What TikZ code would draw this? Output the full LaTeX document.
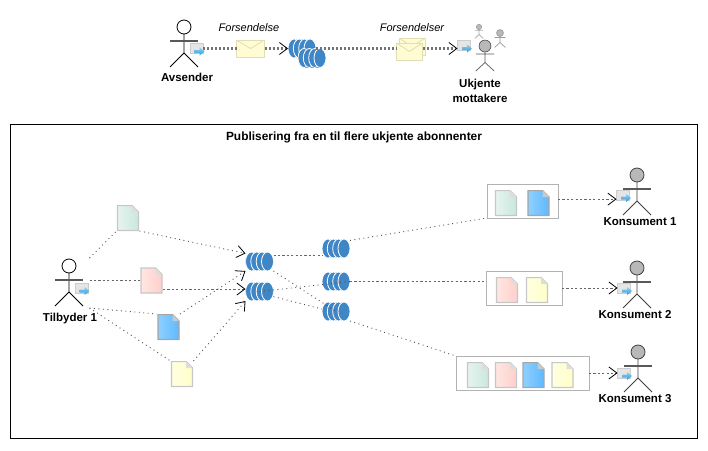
\documentclass[tikz,border=0pt]{standalone}
\usepackage{fontspec}
\setmainfont{Liberation Sans}
\usetikzlibrary{arrows.meta}
\definecolor{queueblue}{HTML}{3F86C6}
\definecolor{envfill}{HTML}{FFFBD2}
\definecolor{envline}{HTML}{E2DDB2}
\definecolor{greenleft}{HTML}{E6F4EF}
\definecolor{greenright}{HTML}{C9E7DD}
\definecolor{redleft}{HTML}{FFE6E2}
\definecolor{redright}{HTML}{FFCFCB}
\definecolor{blueleft}{HTML}{8ED0FF}
\definecolor{blueright}{HTML}{5FB9FF}
\definecolor{yellowleft}{HTML}{FFFFE2}
\definecolor{yellowright}{HTML}{FFFFC6}
\definecolor{arrowtop}{HTML}{8FD0F0}
\definecolor{arrowbottom}{HTML}{2A9BDD}
\colorlet{headgray}{black!28}
\colorlet{docline}{black!22}
\colorlet{bluedocline}{black!35}
\tikzset{
  actorlabel/.style={font=\fontsize{11.5}{15}\selectfont\bfseries, align=center, inner sep=0pt},
  titlelabel/.style={font=\fontsize{11.9}{15}\selectfont\bfseries, inner sep=0pt},
  msglabel/.style={font=\fontsize{11}{13}\selectfont\itshape, inner sep=0pt},
  thickline/.style={line width=2.4pt, black!55, dash pattern=on 2.3pt off 1.7pt},
  dotline/.style={line width=.9pt, black!70, dash pattern=on .9pt off 3.6pt},
  dashline/.style={line width=.7pt, black!60, dash pattern=on 2.2pt off 2.2pt},
  tipline/.style={-{Straight Barb[length=8pt,width=12pt,line width=.8pt,black]}},
  queue/.style={minimum width=28pt, minimum height=19pt, inner sep=0pt, outer sep=0pt,
    path picture={
      \fill[queueblue] ([xshift=-8pt,yshift=-9.5pt]path picture bounding box.center) rectangle ([xshift=8pt,yshift=9.5pt]path picture bounding box.center);
      \foreach \qx in {-8,-2.7,2.7,8}{
        \filldraw[fill=queueblue, draw=white, line width=.8pt] ([xshift=\qx pt]path picture bounding box.center) ellipse (6pt and 9.5pt);
      }
    }},
  docnode/.style n args={3}{minimum width=23pt, minimum height=26pt, inner sep=0pt, outer sep=0pt,
    path picture={
      \begin{scope}[shift={(path picture bounding box.center)}]
        \shade[left color=#1, right color=#2] (-10.5,-12.5) -- (4,-12.5) -- (10.5,-6) -- (10.5,12.5) -- (-10.5,12.5) -- cycle;
        \draw[#3, line width=1.2pt] (-10.5,-12.5) -- (4,-12.5) -- (10.5,-6) -- (10.5,12.5) -- (-10.5,12.5) -- cycle;
        \fill[#3!60!white] (4,-12.5) -- (4,-6) -- (10.5,-6) -- cycle;
      \end{scope}
    }},
  greendoc/.style={docnode={greenleft}{greenright}{docline}},
  reddoc/.style={docnode={redleft}{redright}{docline}},
  bluedoc/.style={docnode={blueleft}{blueright}{bluedocline}},
  yellowdoc/.style={docnode={yellowleft}{yellowright}{docline}},
  envelope/.style={minimum width=28pt, minimum height=17pt, inner sep=0pt, outer sep=0pt,
    fill=envfill, draw=envline, line width=1pt,
    path picture={
      \draw[envline, line width=.8pt] (path picture bounding box.north west) -- (path picture bounding box.center) -- (path picture bounding box.north east);
    }},
  docbox/.style={draw=black!30, line width=.8pt, inner sep=0pt, outer sep=0pt},
  actor/.pic={
    \node[minimum width=41pt, minimum height=50pt, inner sep=0pt, outer sep=0pt] (-box) at (0,17) {};
    \draw[pic actions, line width=.8pt] (0,0) circle (7);
    \draw[pic actions, fill=none, line width=.8pt] (0,7) -- (0,26) -- (-14,40) (0,26) -- (14,40);
    \draw[pic actions, fill=none, line width=1.5pt, black!65] (-14,14) -- (14,14);
  },
  smallactor/.pic={
    \draw[pic actions, line width=.7pt] (0,0) circle (9);
    \draw[pic actions, fill=none, line width=.7pt] (0,9) -- (0,25) -- (-14,38) (0,25) -- (14,38) (-14,12) -- (14,12);
  },
  msgicon/.pic={
    \node[minimum width=13pt, minimum height=10pt, inner sep=0pt, outer sep=0pt, fill=black!10, draw=black!20, line width=.8pt] (-box) at (0,0) {};
    \shade[top color=arrowtop, bottom color=arrowbottom] (-2,1.5) -- (3,1.5) -- (3,-1) -- (8,3) -- (3,7) -- (3,4.5) -- (-2,4.5) -- cycle;
  },
}
\begin{document}
\begin{tikzpicture}[x=1pt, y=-1pt]
\useasboundingbox (0,0) rectangle (708,450);

% top row
\pic (avsender) at (184,27) {actor};
\pic (avsendermsg) at (196.5,48.5) {msgicon};
\node[actorlabel] (avsendertxt) at (187,77) {Avsender};
\node[msglabel] (forsendelse) at (249,28) {Forsendelse};
\node[envelope] (env0) at (250.5,48.5) {};
\node[queue] (top0) at (302,48.5) {};
\node[queue] (top1) at (312,58) {};
\node[msglabel] (forsendelser) at (412,28) {Forsendelser};
\node[envelope, minimum width=26pt] (env1) at (412,46.5) {};
\node[envelope, minimum width=26pt] (env2) at (409.5,51.5) {};

\pic[fill=headgray, draw=black!65, scale=.66] (ukjent0) at (485,46) {smallactor};
\pic[fill=headgray, draw=black!35, scale=.3] (ukjent1) at (479,27) {smallactor};
\pic[fill=headgray, draw=black!40, scale=.38] (ukjent2) at (500,33) {smallactor};
\pic (ukjentmsg) at (464,45.5) {msgicon};
\node[actorlabel] (ukjenttxt) at (480,90.5) {Ukjente\\mottakere};

\draw[thickline] (avsendermsg-box.east) -- (env0.west);
\draw[thickline, tipline] (env0.east) -- (top0.west);
\draw[thickline] (top0.east) -- (top0.east -| env2.west);
\draw[thickline, tipline] (env2.east |- top0.east) -- (ukjentmsg-box.west |- top0.east);

% frame
\node[draw=black, line width=.8pt, minimum width=687pt, minimum height=314pt, inner sep=0pt] (frame) at (353.5,281) {};
\node[titlelabel] (title) at (354,137) {Publisering fra en til flere ukjente abonnenter};

% producer
\pic (tilbyder) at (69,266) {actor};
\pic (tilbydermsg) at (81.5,288) {msgicon};
\node[actorlabel] (tilbydertxt) at (70,319) {Tilbyder 1};

\node[greendoc] (doc0) at (128,218) {};
\node[reddoc] (doc1) at (151.5,280.5) {};
\node[bluedoc] (doc2) at (168.5,327) {};
\node[yellowdoc] (doc3) at (182,374) {};

% queues
\node[queue] (qa) at (259.5,261.5) {};
\node[queue] (qb) at (259.5,291.5) {};
\node[queue] (r0) at (336,248.5) {};
\node[queue] (r1) at (336,281.5) {};
\node[queue] (r2) at (336,311.5) {};

% boxes with what each consumer gets
\node[docbox, minimum width=71pt, minimum height=34pt] (box0) at (522.5,201) {};
\node[docbox, minimum width=76pt, minimum height=34pt] (box1) at (524,288) {};
\node[docbox, minimum width=133pt, minimum height=34pt] (box2) at (522.5,373) {};

\node[greendoc] (b0a) at (506,203) {};
\node[bluedoc] (b0b) at (538.5,203) {};
\node[reddoc] (b1a) at (507,290) {};
\node[yellowdoc] (b1b) at (537,290) {};
\node[greendoc] (b2a) at (478,375) {};
\node[reddoc] (b2b) at (506,375) {};
\node[bluedoc] (b2c) at (533.5,375) {};
\node[yellowdoc] (b2d) at (562.5,375) {};

% consumers
\pic[fill=headgray, draw=black!75] (kons0) at (637,175) {actor};
\pic[fill=headgray, draw=black!75] (kons1) at (637,268) {actor};
\pic[fill=headgray, draw=black!75] (kons2) at (638,352) {actor};
\pic (kons0msg) at (623,195) {msgicon};
\pic (kons1msg) at (624,288) {msgicon};
\pic (kons2msg) at (624,373) {msgicon};
\node[actorlabel] (kons0txt) at (640,222) {Konsument 1};
\node[actorlabel] (kons1txt) at (635,315) {Konsument 2};
\node[actorlabel] (kons2txt) at (635,399) {Konsument 3};

% connectors
\draw[dotline] (tilbyder-box.north east) -- (doc0.south west);
\draw[dashline] (tilbyder-box.east |- doc1.west) -- (doc1.west);
\draw[dotline] (tilbyder-box.south east) -- (doc2.north west);
\draw[dotline] (tilbyder-box.south east) -- (doc3.north west);

\draw[dotline, tipline] (doc0.south east) -- (qa.150);
\draw[dashline, tipline] (doc1.east |- qb.170) -- (qb.170);
\draw[dotline, tipline] (doc2.north east) -- (qa.south west);
\draw[dotline, tipline] (doc3.north east) -- (qb.south west);

\draw[dashline] (qa.25) -- (qa.25 -| r0.west);
\draw[dotline] (qa.south east) -- (r2.center);
\draw[dotline] (qb.center) -- (r1.east);
\draw[dotline] (qb.-20) -- (r2.170);

\draw[dotline] (r0.30) -- (box0.south west);
\draw[dashline] (r1.east) -- (r1.east -| box1.west);
\draw[dotline] (r2.south east) -- (box2.north west);

\draw[dashline, tipline] (box0.3) -- (box0.3 -| kons0msg-box.west);
\draw[dashline, tipline] (box1.east) -- (kons1msg-box.west);
\draw[dashline, tipline] (box2.east) -- (kons2msg-box.west);
\end{tikzpicture}
\end{document}
